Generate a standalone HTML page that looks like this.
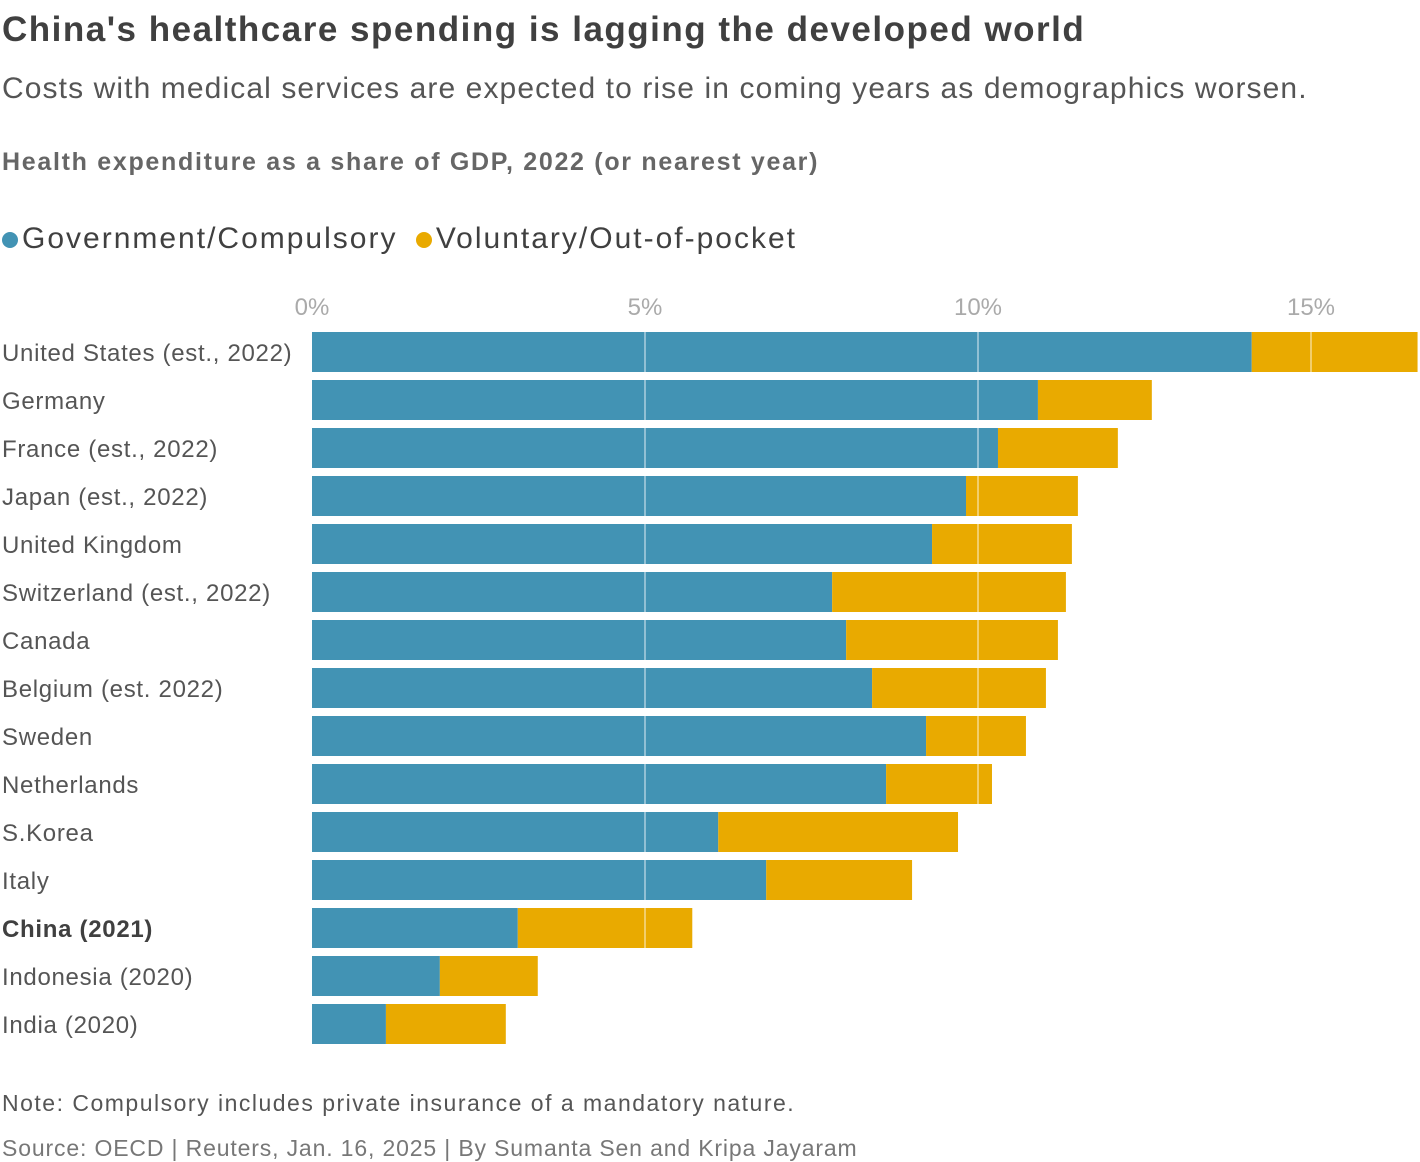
<!DOCTYPE html>
<html><head><meta charset="utf-8">
<style>
body{margin:0;background:#fff;font-family:"Liberation Sans",sans-serif;color:#404040;}
.t{position:absolute;left:2px;white-space:nowrap;}
</style></head>
<body style="width:1420px;height:1162px;position:relative;overflow:hidden">
<div class="t" style="top:10px;font-size:35px;font-weight:bold;color:#404040;letter-spacing:1.5px">China's healthcare spending is lagging the developed world</div>
<div class="t" style="top:72px;font-size:30px;color:#555;letter-spacing:1.1px">Costs with medical services are expected to rise in coming years as demographics worsen.</div>
<div class="t" style="top:148px;font-size:25px;font-weight:bold;color:#666;letter-spacing:1.7px">Health expenditure as a share of GDP, 2022 (or nearest year)</div>
<div class="t" style="top:222px;font-size:30px;color:#404040;letter-spacing:2px">
<span><span style="display:inline-block;width:16px;height:16px;border-radius:50%;background:#4293b4;margin-right:4px"></span>Government/Compulsory</span>
<span style="margin-left:8px"><span style="display:inline-block;width:16px;height:16px;border-radius:50%;background:#e9aa00;margin-right:4px"></span>Voluntary/Out-of-pocket</span>
</div>
<svg id="chart" width="1420" height="1162" style="position:absolute;left:0;top:0"></svg>
<div class="t" style="top:1090px;font-size:23px;color:#555;letter-spacing:1.5px">Note: Compulsory includes private insurance of a mandatory nature.</div>
<div class="t" style="top:1135px;font-size:23px;color:#777;letter-spacing:0.85px">Source: OECD | Reuters, Jan. 16, 2025 | By Sumanta Sen and Kripa Jayaram</div>
<script>
const categories=["United States (est., 2022)","Germany","France (est., 2022)","Japan (est., 2022)","United Kingdom","Switzerland (est., 2022)","Canada","Belgium (est. 2022)","Sweden","Netherlands","S.Korea","Italy","China (2021)","Indonesia (2020)","India (2020)"];
const govValues=[14.11,10.9,10.3,9.82,9.31,7.81,8.02,8.41,9.22,8.62,6.1,6.82,3.09,1.92,1.11];
const totalValues=[16.6,12.61,12.1,11.5,11.41,11.32,11.2,11.02,10.72,10.21,9.7,9.01,5.71,3.39,2.91];
const tickValues=[0,5,10,15];
const tickLabels=["0%","5%","10%","15%"];
const NS="http://www.w3.org/2000/svg";
const svg=document.getElementById('chart');
const x=v=>312+v*66.6;
const y=i=>332+i*48;
const bh=40;
function mk(tag,attrs){const e=document.createElementNS(NS,tag);for(const k in attrs)e.setAttribute(k,attrs[k]);svg.appendChild(e);return e;}
categories.forEach((c,i)=>{
  const g=mk('rect',{x:x(0),y:y(i),width:x(govValues[i])-x(0),height:bh,fill:'#4293b4'});
  
  
  const v=mk('rect',{x:x(govValues[i]),y:y(i),width:x(totalValues[i])-x(govValues[i]),height:bh,fill:'#e9aa00'});
  
  
  const t=mk('text',{x:2,y:y(i)+29,'font-size':24,fill:c.startsWith('China')?'#404040':'#555','font-weight':c.startsWith('China')?'bold':'normal','font-family':'Liberation Sans','letter-spacing':0.7});
  t.textContent=c;
  
  
});
tickValues.forEach((v,i)=>{
  if(v>0){const l=mk('line',{x1:x(v),x2:x(v),y1:322,y2:1044,stroke:'#fff','stroke-width':1.2,'stroke-opacity':0.7});
  
  }
  const t=mk('text',{x:x(v),y:315,'font-size':24,fill:'#aaa','text-anchor':'middle','font-family':'Liberation Sans'});
  t.textContent=tickLabels[i];
  
  
});
</script>
</body></html>
